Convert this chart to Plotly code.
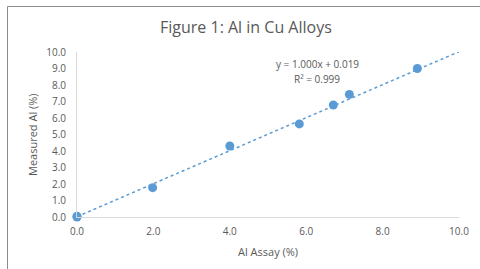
import plotly.graph_objects as go

assay = [0.0, 0.0, 1.98, 4.0, 5.82, 6.71, 7.13, 8.91]
measured = [0.0, 0.05, 1.78, 4.3, 5.64, 6.79, 7.43, 9.0]
trend_slope = 1.000
trend_intercept = 0.019
trend_x = [0.0, 10.0]
trend_y = [trend_slope * x + trend_intercept for x in trend_x]
x_ticks = [0, 2, 4, 6, 8, 10]
y_ticks = list(range(0, 11))

W, H = 480, 269
L, R, T, B = 77, 21, 52, 52
pw, ph = W - L - R, H - T - B

def px(x):
    return (x - L) / pw

def py(y):
    return (H - B - y) / ph

grey = "#595959"
fig = go.Figure()
fig.add_trace(go.Scatter(x=trend_x, y=trend_y, mode="lines",
                         line=dict(color="#5B9BD5", width=1.5, dash="dot"),
                         hoverinfo="skip", cliponaxis=False))
fig.add_trace(go.Scatter(x=assay, y=measured, mode="markers",
                         marker=dict(color="#5B9BD5", size=9),
                         cliponaxis=False))
fig.update_layout(
    width=W, height=H, margin=dict(l=L, r=R, t=T, b=B, autoexpand=False),
    paper_bgcolor="white", plot_bgcolor="white", showlegend=False,
    font=dict(family="Open Sans, sans-serif", color=grey, size=10),
    xaxis=dict(range=[0, 10], tickvals=x_ticks, tickformat=".1f",
               showgrid=False, zeroline=False, showline=True, linecolor="#D9D9D9",
               ticks="", automargin=False, ticklabelstandoff=5,
               tickfont=dict(size=10, color=grey)),
    yaxis=dict(range=[0, 10], tickvals=y_ticks, tickformat=".1f",
               showgrid=False, zeroline=False, showline=True, linecolor="#D9D9D9",
               ticks="", automargin=False, ticklabelstandoff=8,
               tickfont=dict(size=10, color=grey)),
)
texts = [
    ("Figure 1: Al in Cu Alloys", 246, 27, 16, 0),
    ("Al Assay (%)", 268, 251, 11, 0),
    ("Measured Al (%)", 32, 135, 11, -90),
    ("y = 1.000x + 0.019", 317, 64, 10, 0),
    ("R² = 0.999", 317, 79, 10, 0),
]
for t, x, y, s, a in texts:
    fig.add_annotation(xref="paper", yref="paper", x=px(x), y=py(y), text=t,
                       showarrow=False, textangle=a, font=dict(size=s, color=grey),
                       xanchor="center", yanchor="middle")
fig.add_shape(type="rect", xref="paper", yref="paper",
              x0=px(7.5), x1=px(482), y0=py(6.5), y1=py(272),
              line=dict(color="#8C8C8C", width=1), layer="below")
fig.write_html("out.html", config={"displayModeBar": False},
               post_script="document.body.style.margin='0';document.body.style.overflow='hidden';")
